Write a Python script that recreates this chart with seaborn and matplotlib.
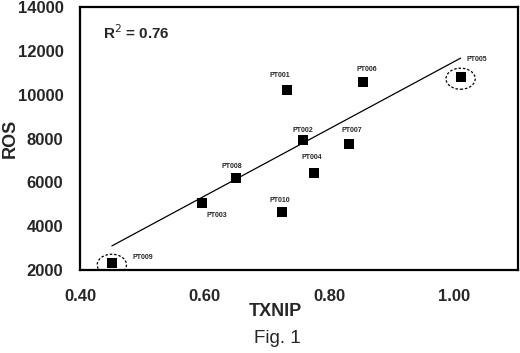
import numpy as np
import pandas as pd
import matplotlib
matplotlib.use("Agg")
import matplotlib.pyplot as plt
from matplotlib.patches import Ellipse
import seaborn as sns

# Values
patients = ["PT009", "PT003", "PT008", "PT010", "PT001",
            "PT002", "PT004", "PT007", "PT006", "PT005"]
txnip = [0.451, 0.596, 0.650, 0.724, 0.732, 0.758, 0.775, 0.832, 0.854, 1.011]
ros = [2320, 5060, 6200, 4650, 10210, 7930, 6430, 7750, 10580, 10810]

# trend line as drawn in the figure
line_x = [0.451, 1.011]
line_y = [3100, 11670]

x_ticks = [0.40, 0.60, 0.80, 1.00]
y_ticks = [2000, 4000, 6000, 8000, 10000, 12000, 14000]

df = pd.DataFrame({"patient": patients, "TXNIP": txnip, "ROS": ros})

sns.set_style("white")
plt.rcParams["font.family"] = ["Liberation Sans", "DejaVu Sans"]

fig = plt.figure(figsize=(5.2, 3.53), dpi=100)
ax = fig.add_axes([0.154, 0.235, 0.842, 0.745])

sns.lineplot(x=line_x, y=line_y, ax=ax, color="black", linewidth=0.9)
sns.scatterplot(data=df, x="TXNIP", y="ROS", ax=ax, marker="s", s=45,
                color="black", edgecolor="black", linewidth=0, zorder=3)

# point labels (offsets in pixels)
offsets = {
    "PT001": (-7, 15, "center"), "PT002": (0, 10, "center"),
    "PT005": (16, 17, "center"), "PT006": (4, 13, "center"),
    "PT007": (3, 14, "center"), "PT004": (-2, 15, "center"),
    "PT008": (-4, 12, "center"), "PT010": (-2, 11, "center"),
    "PT003": (15, -13, "center"), "PT009": (21, 6, "left"),
}
for p, x, y in zip(patients, txnip, ros):
    dx, dy, ha = offsets[p]
    ax.annotate(p, (x, y), xytext=(dx * 0.72, dy * 0.72),
                textcoords="offset points", ha=ha, va="center",
                fontsize=5, fontweight="bold")

# dashed circles around the extremes
for p in ["PT009", "PT005"]:
    i = patients.index(p)
    ax.add_patch(Ellipse((txnip[i], ros[i] - 80), 0.047, 960, fill=False,
                         linestyle=(0, (2, 1.5)), linewidth=0.9,
                         edgecolor="black"))

ax.text(0.436, 12815, r"R$^2$ = 0.76", fontsize=11, fontweight="bold",
        va="center")

ax.set_xlim(0.40, 1.103)
ax.set_ylim(2000, 14000)
ax.set_xticks(x_ticks)
ax.set_xticklabels([f"{t:.2f}" for t in x_ticks])
ax.set_yticks(y_ticks)
ax.tick_params(direction="in", length=4, width=1.2, labelsize=12)
ax.tick_params(axis="x", pad=14)
ax.tick_params(axis="y", pad=12)
for lab in ax.get_xticklabels() + ax.get_yticklabels():
    lab.set_fontweight("bold")

for s in ax.spines.values():
    s.set_linewidth(1.6)
    s.set_color("black")

ax.set_xlabel("TXNIP", fontsize=13, fontweight="bold")
ax.xaxis.set_label_coords(0.447, -0.125)
ax.set_ylabel("ROS", fontsize=13, fontweight="bold")
ax.yaxis.set_label_coords(-0.14, 0.5)
fig.text(0.533, 0.04, "Fig. 1", fontsize=13.5, ha="center", va="center")

fig.savefig("out.png", dpi=100)
